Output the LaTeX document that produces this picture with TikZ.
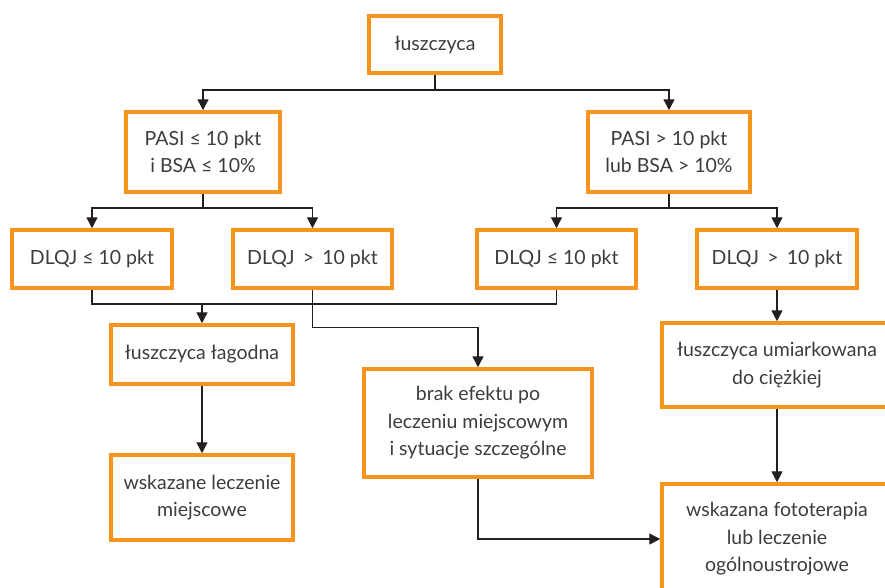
\documentclass[tikz,border=0pt]{standalone}
\usepackage{fontspec}
\setmainfont{Lato}
\usepackage{tikz}
\usetikzlibrary{arrows.meta,positioning}
\definecolor{boxorange}{RGB}{247,148,29}
\definecolor{linegray}{RGB}{35,31,32}
\definecolor{textgray}{RGB}{60,60,60}
\tikzset{
	>={Triangle[length=11pt,width=11pt]},
	box/.style={draw=boxorange, line width=3.5pt, align=center, text=textgray,
		font=\fontsize{19.5}{27.5}\selectfont, inner sep=0pt},
	link/.style={draw=linegray, line width=1.4pt},
}

\begin{document}
\begin{tikzpicture}[x=1pt, y=-1pt]
        \useasboundingbox (0,0) rectangle (885,587);
        \clip (0,0) rectangle (885,587);

        \node[box, minimum width=132pt, minimum height=57pt] (root) at (435,44.5) {łuszczyca};

        \node[box, minimum width=154pt, minimum height=80pt] (pasiL) at (203,152) {PASI ≤ 10 pkt\\i BSA ≤ 10\%};
        \node[box, minimum width=162pt, minimum height=80pt] (pasiR) at (669,152) {PASI > 10 pkt\\lub BSA > 10\%};

        \node[box, minimum width=160pt, minimum height=58pt] (dlqjA) at (92,259) {DLQJ ≤ 10 pkt};
        \node[box, minimum width=159pt, minimum height=58pt] (dlqjB) at (312.5,259) {DLQJ \,>\, 10 pkt};
        \node[box, minimum width=159pt, minimum height=58pt] (dlqjC) at (556.5,259) {DLQJ ≤ 10 pkt};
        \node[box, minimum width=160pt, minimum height=58pt] (dlqjD) at (777,259) {DLQJ \,>\, 10 pkt};

        \node[box, minimum width=182pt, minimum height=59pt] (mild) at (202,354.5) {łuszczyca łagodna};
        \node[box, minimum width=228pt, minimum height=108pt] (brak) at (478,423) {brak efektu po\\leczeniu miejscowym\\i sytuacje szczególne};
        \node[box, minimum width=230pt, minimum height=84pt] (moderate) at (777,365) {łuszczyca umiarkowana\\do ciężkiej};

        \node[box, minimum width=182pt, minimum height=85pt] (topical) at (202,497.5) {wskazane leczenie\\miejscowe};
        \node[box, minimum width=230pt, minimum height=110pt] (photo) at (777,539) {wskazana fototerapia\\lub leczenie\\ogólnoustrojowe};

        \coordinate (j1) at (435,90);
        \coordinate (j2) at (203,208);
        \coordinate (j3) at (669,208);
        \coordinate (j4) at (202,304);

        \begin{scope}[link]
            \draw (root.south) -- (j1);
            \draw[->] (j1) -| (pasiL.north);
            \draw[->] (j1) -| (pasiR.north);

            \draw (pasiL.south) -- (j2);
            \draw[->] (j2) -| (dlqjA.north);
            \draw[->] (j2) -| (dlqjB.north);
            \draw (pasiR.south) -- (j3);
            \draw[->] (j3) -| (dlqjC.north);
            \draw[->] (j3) -| (dlqjD.north);

            \draw (dlqjA.south) |- (j4) -| (dlqjC.south);
            \draw[->] (j4) -- (mild.north);
            \draw[->] (dlqjB.south) -- ++(0,38) -| (brak.north);
            \draw[->] (dlqjD.south) -- (moderate.north);

            \draw[->] (mild.south) -- (topical.north);
            \draw[->] (moderate.south) -- (photo.north);
            \draw[->] (brak.south) |- (photo.west);
        \end{scope}
    \end{tikzpicture}
\end{document}
